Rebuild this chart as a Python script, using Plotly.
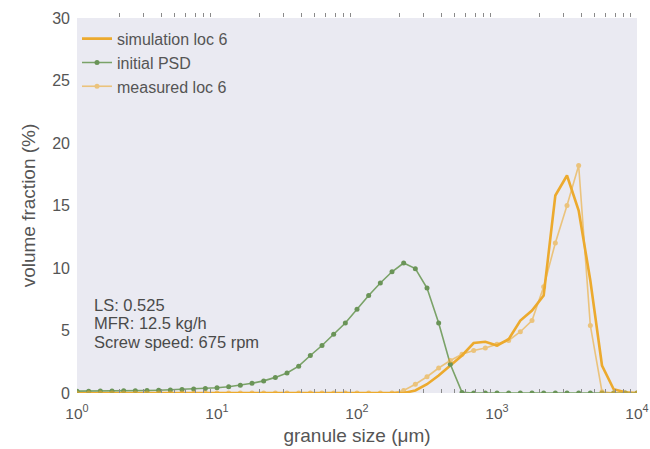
import numpy as np
import plotly.graph_objects as go

# size bins (log-spaced, 12 per decade)
sizes = [10 ** (k / 12) for k in range(49)]

initial_psd = [0.15, 0.15, 0.16, 0.17, 0.18, 0.19, 0.20, 0.22, 0.25, 0.28,
               0.32, 0.36, 0.42, 0.50, 0.62, 0.78, 0.97, 1.25, 1.60, 2.15,
               3.00, 3.80, 4.70, 5.60, 6.70, 7.80, 8.80, 9.70, 10.40, 9.95,
               8.40, 5.60, 2.30, 0.05, 0, 0, 0, 0, 0, 0,
               0, 0, 0, 0, 0, 0, 0, 0, 0]

simulation = [0] * 29 + [0.2, 0.7, 1.4, 2.2, 3.0, 4.0, 4.1, 3.8, 4.3, 5.8,
                         6.6, 7.8, 15.8, 17.4, 14.6, 9.0, 2.2, 0.3, 0.05, 0]

measured = [0] * 28 + [0.2, 0.7, 1.3, 2.0, 2.6, 3.1, 3.4, 3.6, 3.9, 4.2,
                       4.9, 5.8, 8.5, 12.0, 15.0, 18.2, 5.4, 0.1, 0, 0, 0]

tick_vals = [1, 10, 100, 1000, 10000]
tick_text = ["10<sup>0</sup>", "10<sup>1</sup>", "10<sup>2</sup>", "10<sup>3</sup>", "10<sup>4</sup>"]
minor_vals = [m * 10 ** e for e in range(4) for m in range(2, 10)]
y_ticks = [0, 5, 10, 15, 20, 25, 30]
info_lines = ["LS: 0.525", "MFR: 12.5 kg/h", "Screw speed: 675 rpm"]

ORANGE = "#ecaa2e"
GREEN = "#7aa268"
FONT = "Liberation Sans, Arial, sans-serif"
TXT = "#555555"

fig = go.Figure()
fig.add_trace(go.Scatter(x=sizes, y=simulation, mode="lines", name="simulation loc 6",
                         line=dict(color=ORANGE, width=2.6)))
fig.add_trace(go.Scatter(x=sizes, y=initial_psd, mode="lines+markers", name="initial PSD",
                         line=dict(color=GREEN, width=1.6),
                         marker=dict(color="#6a9458", size=5)))
fig.add_trace(go.Scatter(x=sizes, y=measured, mode="lines+markers", name="measured loc 6",
                         line=dict(color=ORANGE, width=1.6), opacity=0.6,
                         marker=dict(color=ORANGE, size=5)))
# invisible trace for top axis minor ticks
fig.add_trace(go.Scatter(x=[1, 10000], y=[0, 0], xaxis="x2", mode="lines",
                         line=dict(width=0), showlegend=False, hoverinfo="skip"))

fig.update_layout(
    width=650, height=449,
    margin=dict(l=77, r=13, t=18, b=56),
    paper_bgcolor="white",
    plot_bgcolor="#eaeaf2",
    font=dict(family=FONT, size=15, color=TXT),
    showlegend=True,
    legend=dict(x=0.0, y=0.99, xanchor="left", yanchor="top",
                bgcolor="rgba(0,0,0,0)", font=dict(size=16, color=TXT),
                tracegroupgap=0),
    xaxis=dict(type="log", range=[0, 4], tickvals=tick_vals, ticktext=tick_text,
               showgrid=False, zeroline=False, showline=False, ticks="", automargin=False,
               tickfont=dict(size=15.5, color=TXT), ticklabelstandoff=9,
               minor=dict(ticks="inside", tickvals=minor_vals, ticklen=4, tickwidth=1,
                          tickcolor="#8a8a8a", showgrid=False),
               title=dict(text="granule size (μm)", font=dict(size=19, color=TXT), standoff=8)),
    xaxis2=dict(type="log", range=[0, 4], overlaying="x", side="top", showticklabels=False,
                showgrid=False, zeroline=False, showline=False, ticks="", automargin=False,
                minor=dict(ticks="outside", tickvals=minor_vals, ticklen=4, tickwidth=1,
                           tickcolor="#8a8a8a", showgrid=False)),
    yaxis=dict(range=[0, 30], tickvals=y_ticks, showgrid=False, zeroline=False,
               showline=False, ticks="", automargin=False,
               tickfont=dict(size=16, color=TXT), ticklabelstandoff=6,
               title=dict(text="volume fraction (%)", font=dict(size=19, color=TXT), standoff=11)),
)

for i, line in enumerate(info_lines):
    fig.add_annotation(x=0.026, y=0.2347 - i * 0.0493, xref="paper", yref="paper",
                       xanchor="left", yanchor="middle", align="left", showarrow=False,
                       text=line, font=dict(size=16.5, color="#4a4a4a", family=FONT))

fig.write_html("out.html", config={"displayModeBar": False},
               post_script="document.body.style.margin='0';")
